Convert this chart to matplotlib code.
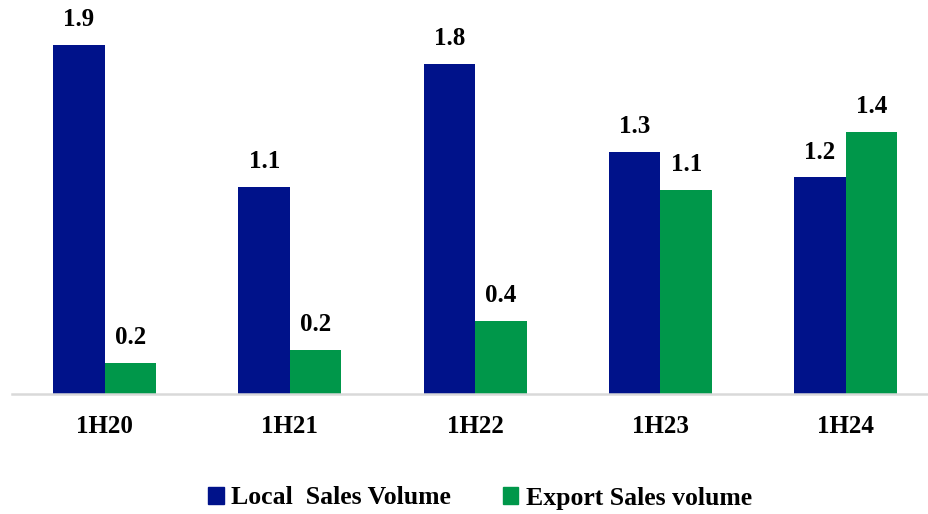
import matplotlib
import matplotlib.pyplot as plt
import numpy as np
from matplotlib.patches import Patch

matplotlib.use("Agg")

plt.rcParams.update({
    "font.family": "Liberation Serif",
    "font.weight": "bold",
    "font.size": 18,
})

periods = ["1H20", "1H21", "1H22", "1H23", "1H24"]
local_volume = [1.90, 1.13, 1.80, 1.32, 1.18]
export_volume = [0.17, 0.24, 0.40, 1.11, 1.43]

NAVY = "#00128A"
GREEN = "#00974A"

fig = plt.figure(figsize=(9.29, 5.14), dpi=100)
ax = fig.add_axes([12 / 929, 120 / 514, 917 / 929, 367 / 514])

x = np.arange(len(periods))
width = 0.278

bars_local = ax.bar(x - width / 2, local_volume, width, color=NAVY)
bars_export = ax.bar(x + width / 2, export_volume, width, color=GREEN)

for bars in (bars_local, bars_export):
    for bar in bars:
        h = bar.get_height()
        ax.annotate(
            f"{h:.1f}",
            xy=(bar.get_x() + bar.get_width() / 2, h),
            xytext=(0, 10),
            textcoords="offset points",
            ha="center", va="bottom", fontsize=18, fontweight="bold",
        )

ax.set_xlim(-0.5, 4.45)
ax.set_ylim(0, 2.0)
ax.set_xticks(x)
ax.set_xticklabels(periods, fontsize=18, fontweight="bold")
ax.tick_params(axis="x", length=0, pad=15)
ax.set_yticks([])
for side in ("top", "right", "left"):
    ax.spines[side].set_visible(False)
ax.spines["bottom"].set_color("#d9d9d9")
ax.spines["bottom"].set_linewidth(1.8)

handles = [
    Patch(color=NAVY, label="Local  Sales Volume"),
    Patch(color=GREEN, label="Export Sales volume"),
]
fig.legend(
    handles=handles, loc="center", bbox_to_anchor=(480 / 929, 1 - 498 / 514),
    ncol=2, frameon=False, handlelength=0.6, handleheight=0.6,
    handletextpad=0.3, columnspacing=2.0, fontsize=18.5,
)

fig.savefig("out.png", dpi=100)
